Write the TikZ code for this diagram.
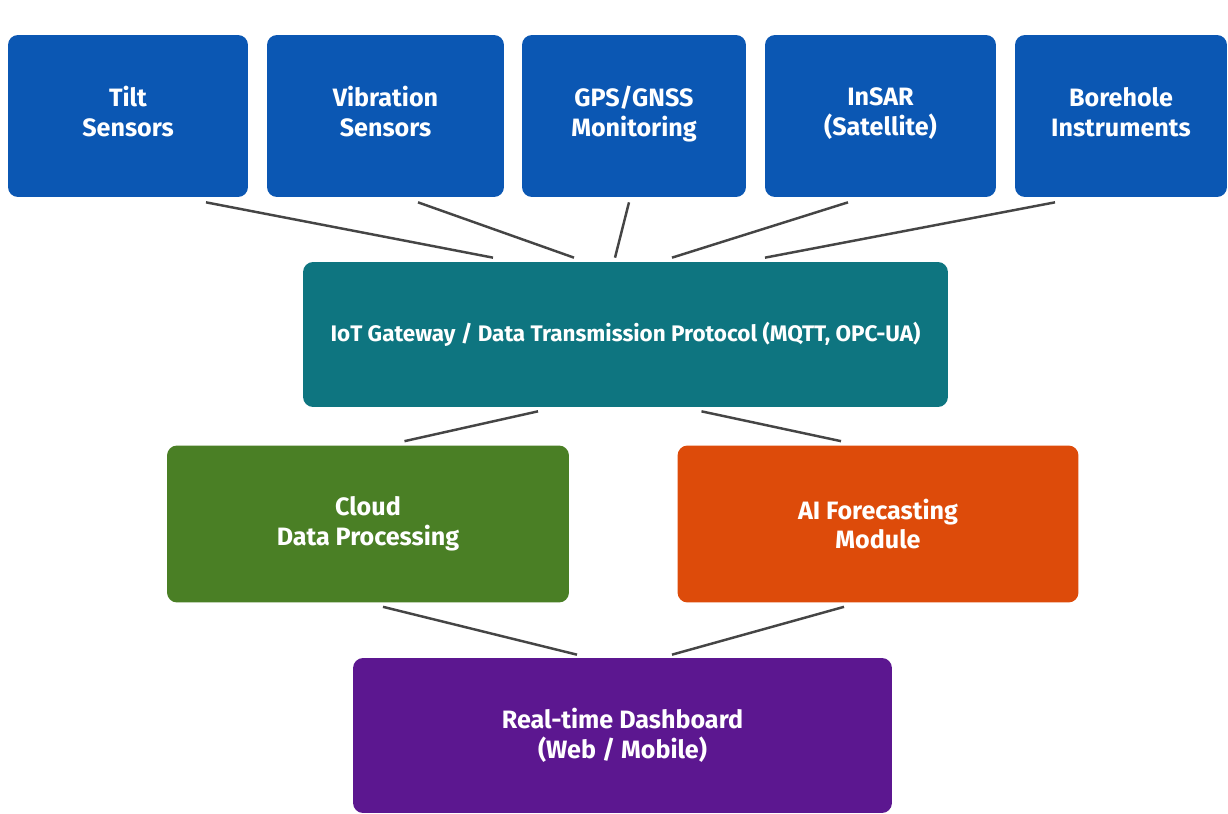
\documentclass[tikz,border=0pt]{standalone}
\usepackage{fontspec}
\setmainfont{Fira Sans}
\definecolor{sensorblue}{HTML}{0B57B3}
\definecolor{gwteal}{HTML}{0E7580}
\definecolor{cloudgreen}{HTML}{4A7F25}
\definecolor{aiorange}{HTML}{DD4B0A}
\definecolor{dashpurple}{HTML}{5C1790}
\definecolor{linkgray}{HTML}{454545}
\begin{document}
\begin{tikzpicture}[x=0.02cm,y=-0.02cm,
    box/.style={fill=#1,rounded corners=0.2cm,inner sep=0pt,align=center,text=white,
      font=\fontsize{14.3}{17}\selectfont\bfseries},
    sensor/.style={box=sensorblue,minimum height=3.24cm},
    link/.style={draw=linkgray,line width=1.4pt}]
\useasboundingbox[fill=white] (0,0) rectangle (1228,814);
% capteurs
\node[sensor,minimum width=4.8cm]  (tilt)  at (128,116)   {Tilt\\Sensors\\[-12pt]};
\node[sensor,minimum width=4.74cm] (vib)   at (385.5,116) {Vibration\\Sensors\\[-12pt]};
\node[sensor,minimum width=4.48cm] (gps)   at (634,116)   {GPS/GNSS\\Monitoring\\[-12pt]};
\node[sensor,minimum width=4.62cm] (insar) at (880.5,116) {InSAR\\(Satellite)\\[-12pt]};
\node[sensor,minimum width=4.24cm] (bore)  at (1121,116)  {Borehole\\Instruments\\[-12pt]};
% passerelle
\node[box=gwteal,minimum width=12.9cm,minimum height=2.9cm,font=\fontsize{12.8}{17}\selectfont\bfseries] (gw) at (625.5,334.5)
  {IoT Gateway / Data Transmission Protocol (MQTT, OPC-UA)};
\node[box=cloudgreen,minimum width=8.04cm,minimum height=3.14cm] (cloud) at (368,524)
  {Cloud\\Data Processing};
\node[box=aiorange,minimum width=8.02cm,minimum height=3.14cm] (ai) at (878,524)
  {AI Forecasting\\Module};
\node[box=dashpurple,minimum width=10.78cm,minimum height=3.1cm] (dash) at (622.5,735.5)
  {Real-time Dashboard\\(Web / Mobile)};
% liaisons
\foreach \s/\a/\b in {tilt/78/-132.5, vib/32.5/-51.5, gps/-5/-10.5, insar/-32.5/46.5, bore/-66/139.5}
  \draw[link] ([shift={(\a,5)}]\s.south) -- ([shift={(\b,-4)}]gw.north);
\draw[link] ([shift={(-87.5,4)}]gw.south) -- ([shift={(36.5,-4)}]cloud.north);
\draw[link] ([shift={(76,4)}]gw.south) -- ([shift={(-37,-4)}]ai.north);
\draw[link] ([shift={(15,4)}]cloud.south) -- ([shift={(-45.5,-3)}]dash.north);
\draw[link] ([shift={(-34,4)}]ai.south) -- ([shift={(49.5,-3)}]dash.north);
\end{tikzpicture}
\end{document}
